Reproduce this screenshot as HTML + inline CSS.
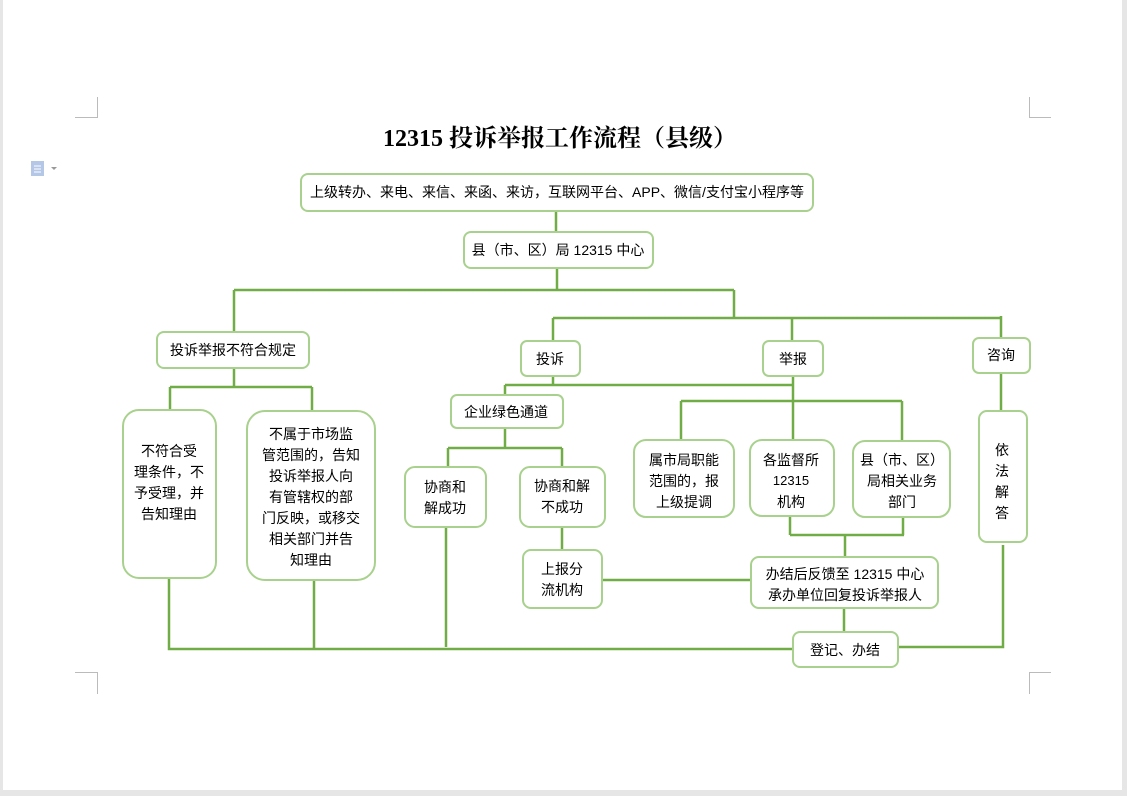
<!DOCTYPE html>
<html><head><meta charset="utf-8"><style>
html,body{margin:0;padding:0;background:#fff;}
body{width:1127px;height:796px;overflow:hidden;position:relative;}
svg{position:absolute;left:0;top:0;}
text{font-family:"Liberation Sans","Noto Sans CJK SC",sans-serif;font-size:14px;fill:#000;}
.t{font-family:"Liberation Serif","Noto Serif CJK SC",serif;font-size:24px;font-weight:bold;}
</style></head><body>
<svg width="1127" height="796" viewBox="0 0 1127 796">
<rect x="0" y="0" width="3" height="796" fill="#e6e6e6"/>
<rect x="1122" y="0" width="5" height="796" fill="#e6e6e6"/>
<rect x="0" y="790" width="1127" height="6" fill="#e6e6e6"/>
<g stroke="#bbb" stroke-width="1" fill="none">
<path d="M97.5 97V117.5H75"/><path d="M1029.5 97V117.5H1051"/>
<path d="M75 672.5H97.5V694"/><path d="M1051 672.5H1029.5V694"/>
</g>
<rect x="31" y="161" width="13" height="15" fill="#b4c7e7"/>
<g stroke="#fff" stroke-width="1"><path d="M34 166h7M34 169h7M34 172h7"/></g>
<path d="M51 167l3 3 3-3z" fill="#999"/>
<text class="t" x="560" y="146" text-anchor="middle">12315 投诉举报工作流程（县级）</text>

<g stroke="#70ad47" stroke-width="2.5" fill="none">
<path d="M556 211V232"/>
<path d="M557 268V290M234 290H734M234 290V332M734 290V318M553 318H1001M553 318V341M792 318V341M1001 316V338"/>
<path d="M234 368V387M170 387H312M170 387V410M312 387V411"/>
<path d="M553 376V385M505 385H793M505 385V395M793 376V440M681 401H902M681 401V440M902 401V441"/>
<path d="M505 428V448M448 448H562M448 448V467M562 448V467M562 527V550"/>
<path d="M790 516V535M903 517V535M790 535H904M845 535V557M602 580H751M844 608V632"/>
<path d="M1001 373V411M1003 545V647H898"/>
<path d="M169 578V649H793M314 580V650M446 527V647"/>
</g>
<g stroke="#a9d18e" stroke-width="2" fill="#fff">
<rect x="301" y="174" width="512" height="37" rx="7"/>
<rect x="464" y="232" width="189" height="36" rx="7"/>
<rect x="157" y="332" width="152" height="36" rx="7"/>
<rect x="521" y="341" width="59" height="35" rx="6"/>
<rect x="763" y="341" width="60" height="35" rx="6"/>
<rect x="973" y="338" width="57" height="35" rx="6"/>
<rect x="123" y="410" width="93" height="168" rx="16"/>
<rect x="247" y="411" width="128" height="169" rx="18"/>
<rect x="451" y="395" width="112" height="33" rx="6"/>
<rect x="405" y="467" width="81" height="60" rx="10"/>
<rect x="520" y="467" width="85" height="60" rx="10"/>
<rect x="523" y="550" width="79" height="58" rx="8"/>
<rect x="634" y="440" width="100" height="77" rx="12"/>
<rect x="750" y="440" width="84" height="76" rx="12"/>
<rect x="853" y="441" width="97" height="76" rx="12"/>
<rect x="979" y="411" width="48" height="131" rx="8"/>
<rect x="751" y="557" width="187" height="51" rx="8"/>
<rect x="793" y="632" width="105" height="35" rx="7"/>
</g>
<g text-anchor="middle">
<text x="557" y="197">上级转办、来电、来信、来函、来访，互联网平台、APP、微信/支付宝小程序等</text>
<text x="558" y="255">县（市、区）局 12315 中心</text>
<text x="233" y="355">投诉举报不符合规定</text>
<text x="550" y="364">投诉</text>
<text x="793" y="364">举报</text>
<text x="1001" y="360">咨询</text>
<text x="169" y="456">不符合受</text><text x="169" y="477">理条件，不</text><text x="169" y="498">予受理，并</text><text x="169" y="519">告知理由</text>
<text x="311" y="439">不属于市场监</text><text x="311" y="460">管范围的，告知</text><text x="311" y="481">投诉举报人向</text><text x="311" y="502">有管辖权的部</text><text x="311" y="523">门反映，或移交</text><text x="311" y="544">相关部门并告</text><text x="311" y="565">知理由</text>
<text x="506" y="417">企业绿色通道</text>
<text x="445" y="492">协商和</text><text x="445" y="513">解成功</text>
<text x="562" y="491">协商和解</text><text x="562" y="512">不成功</text>
<text x="562" y="574">上报分</text><text x="562" y="595">流机构</text>
<text x="684" y="465">属市局职能</text><text x="684" y="486">范围的，报</text><text x="684" y="507">上级提调</text>
<text x="791" y="465">各监督所</text><text x="791" y="485" style="font-size:13px">12315</text><text x="791" y="507">机构</text>
<text x="902" y="465">县（市、区）</text><text x="902" y="486">局相关业务</text><text x="902" y="507">部门</text>
<text x="1002" y="455">依</text><text x="1002" y="476">法</text><text x="1002" y="497">解</text><text x="1002" y="518">答</text>
<text x="845" y="579">办结后反馈至 12315 中心</text><text x="845" y="600">承办单位回复投诉举报人</text>
<text x="845" y="655">登记、办结</text>
</g>
</svg>
</body></html>
